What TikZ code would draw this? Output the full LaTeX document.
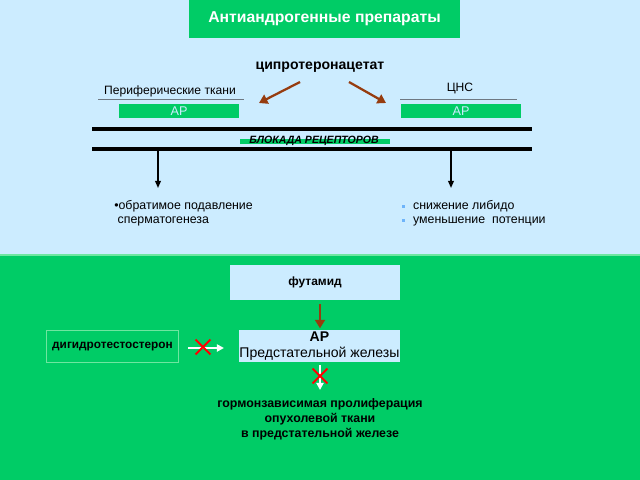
\documentclass[tikz,border=0pt]{standalone}
\usepackage{fontspec}
\setmainfont{Liberation Sans}
\usetikzlibrary{arrows.meta,positioning,shapes.misc}
\definecolor{skyBack}{RGB}{204,236,255}
\definecolor{brandGreen}{RGB}{0,204,102}
\definecolor{lightGreen}{RGB}{110,230,160}
\definecolor{arrowBrown}{RGB}{150,60,15}
\definecolor{bulletBlue}{RGB}{110,180,250}
\definecolor{ruleGrey}{RGB}{110,120,130}
\newcommand{\bulletSq}{\textcolor{bulletBlue}{\rule[0.25ex]{0.45ex}{0.45ex}}\hspace{1.2ex}}
\tikzset{
  arBox/.style={fill=brandGreen,text=skyBack,minimum width=3cm,minimum height=0.35cm,inner sep=0pt,font=\fontsize{9}{9}\selectfont},
  lightBox/.style={fill=skyBack,inner sep=0pt,align=center},
  brownArrow/.style={-{Triangle[length=6pt,width=7pt]},arrowBrown,line width=1.6pt},
  blackArrow/.style={-{Triangle[length=5pt,width=4pt]},black,line width=1.1pt},
  whiteArrow/.style={-{Triangle[length=5pt,width=5pt]},white,line width=1.4pt},
  redCross/.style={cross out,draw=red,line width=1.5pt,minimum size=9pt,inner sep=0pt},
  thickRule/.style={black,line width=2.2pt}
}
\begin{document}
\begin{tikzpicture}[x=0.025cm,y=-0.025cm]
\useasboundingbox (0,0) rectangle (640,480);
\fill[skyBack] (-10,-10) rectangle (650,254);
\fill[brandGreen] (-10,254) rectangle (650,490);
\draw[lightGreen,line width=0.8pt] (-10,255) -- (650,255);

% upper part
\node[fill=brandGreen,text=white,minimum width=6.78cm,minimum height=0.95cm,font=\bfseries\fontsize{11.2}{12}\selectfont] (title) at (324.5,19) {Антиандрогенные препараты};
\node[font=\bfseries\fontsize{10}{11}\selectfont] (cypro) at (320,67) {ципротеронацетат};
\node[font=\fontsize{8.6}{10}\selectfont] (periph) at (170,91) {Периферические ткани};
\node[font=\fontsize{8.6}{10}\selectfont] (cns) at (460,88) {ЦНС};
\draw[ruleGrey,line width=0.6pt] (98,99) -- (244,99);
\draw[ruleGrey,line width=0.6pt] (400,99) -- (517,99);
\node[arBox] (arLeft) at (179,111) {АР};
\node[arBox] (arRight) at (461,111) {АР};
\coordinate (aimLeft) at (259,103);
\coordinate (aimRight) at (386,103);
\draw[brownArrow] (300,82) -- (aimLeft);
\draw[brownArrow] (349,82) -- (aimRight);

\draw[thickRule] (92,129) -- (532,129);
\draw[thickRule] (92,149) -- (532,149);
\fill[brandGreen] (240,139) rectangle (390,144);
\node[font=\bfseries\itshape\fontsize{7.5}{8}\selectfont] (block) at (314,141) {БЛОКАДА РЕЦЕПТОРОВ};

\coordinate (dropLeft) at (158,149);
\coordinate (dropRight) at (451,149);
\coordinate (endLeft) at (158,188);
\coordinate (endRight) at (451,188);
\draw[blackArrow] (dropLeft) -- (endLeft);
\draw[blackArrow] (dropRight) -- (endRight);

\node[anchor=north west,align=left,inner sep=0pt,font=\fontsize{8.8}{10}\selectfont] (effLeft) at (114,200) {•обратимое подавление\\ \ сперматогенеза};
\node[anchor=north west,align=left,inner sep=0pt,font=\fontsize{8.8}{10}\selectfont] (effRight) at (402,200) {\bulletSq снижение либидо\\ \bulletSq уменьшение\ \ потенции};

% lower part
\node[lightBox,minimum width=4.25cm,minimum height=0.87cm,font=\bfseries\fontsize{8.5}{10}\selectfont] (flut) at (315,282.5) {футамид};
\node[lightBox,minimum width=4.03cm,minimum height=0.8cm,font=\fontsize{10}{11.5}\selectfont] (arProst) at (319.5,346) {\textbf{АР}\\ Предстательной железы};
\draw[brownArrow] (flut.south -| 320,0) ++(0,4) -- ([yshift=1pt]arProst.north -| 320,0);
\node[draw=lightGreen,line width=0.6pt,inner sep=1pt,minimum width=3.28cm,minimum height=0.78cm,font=\bfseries\fontsize{8.4}{10}\selectfont] (dht) at (112.5,346.5) {дигидротестостерон};
\coordinate (dhtEnd) at (224,348);
\draw[whiteArrow] ([xshift=7pt]dht.east |- dhtEnd) -- (dhtEnd);
\node[redCross] (crossA) at (203,347) {};
\coordinate (growTop) at (320,365);
\coordinate (growEnd) at (320,390);
\draw[whiteArrow] (growTop) -- (growEnd);
\node[redCross] (crossB) at (320,376) {};
\node[align=center,font=\bfseries\fontsize{8.8}{10.8}\selectfont] (prolif) at (320,419) {гормонзависимая пролиферация\\ опухолевой ткани\\ в предстательной железе};
\end{tikzpicture}
\end{document}
